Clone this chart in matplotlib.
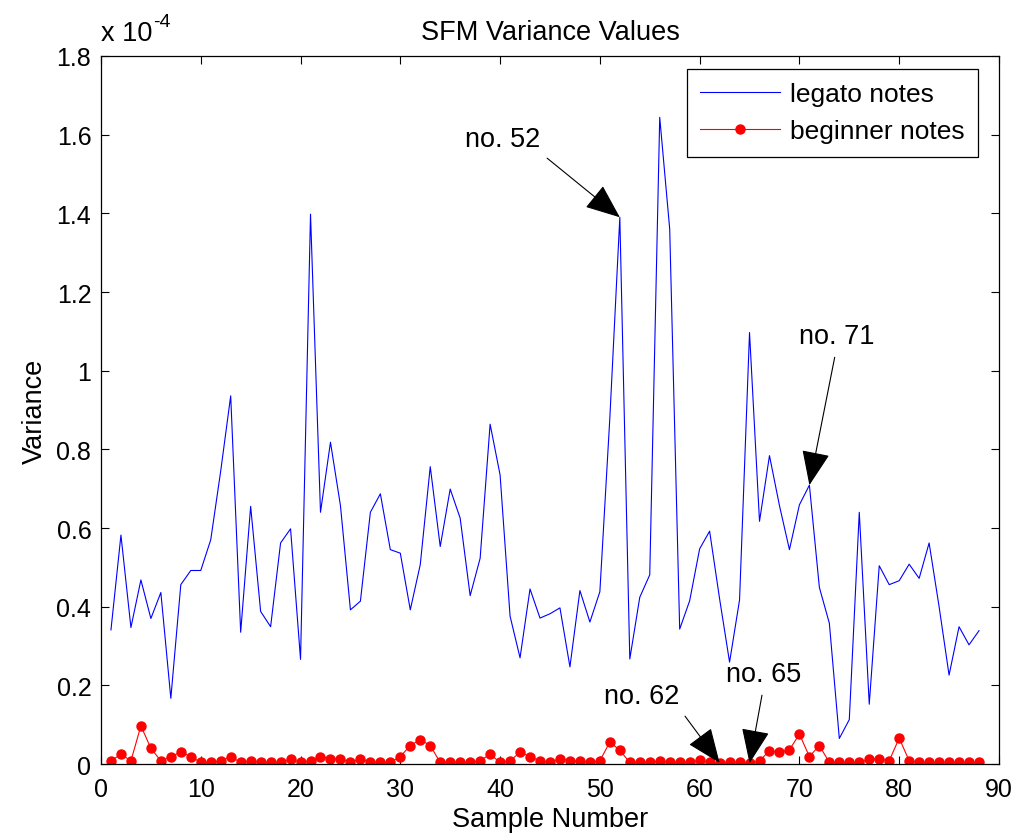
import numpy as np
import matplotlib
matplotlib.use("Agg")
import matplotlib.pyplot as plt
from matplotlib.ticker import FuncFormatter

plt.rcParams['font.family'] = ['Liberation Sans', 'DejaVu Sans']

# values in units of 1e-4
legato = [0.341, 0.582, 0.347, 0.468, 0.370, 0.436, 0.167, 0.456, 0.492, 0.492,
          0.570, 0.745, 0.936, 0.335, 0.655, 0.388, 0.349, 0.562, 0.598, 0.266,
          1.398, 0.640, 0.818, 0.657, 0.392, 0.414, 0.640, 0.687, 0.545, 0.536,
          0.392, 0.507, 0.756, 0.553, 0.699, 0.625, 0.428, 0.523, 0.864, 0.735,
          0.376, 0.270, 0.445, 0.371, 0.382, 0.397, 0.247, 0.441, 0.361, 0.438,
          0.880, 1.390, 0.267, 0.424, 0.481, 1.644, 1.360, 0.343, 0.415, 0.547,
          0.592, 0.420, 0.259, 0.417, 1.097, 0.617, 0.784, 0.657, 0.545, 0.659,
          0.709, 0.449, 0.358, 0.065, 0.113, 0.640, 0.152, 0.504, 0.456, 0.466,
          0.508, 0.472, 0.562, 0.400, 0.226, 0.349, 0.303, 0.339]
beginner = [0.008, 0.025, 0.008, 0.097, 0.040, 0.008, 0.019, 0.030, 0.019, 0.004,
            0.004, 0.008, 0.019, 0.004, 0.008, 0.004, 0.004, 0.004, 0.013, 0.004,
            0.008, 0.019, 0.014, 0.014, 0.004, 0.014, 0.004, 0.004, 0.004, 0.019,
            0.047, 0.062, 0.047, 0.004, 0.004, 0.004, 0.004, 0.008, 0.025, 0.004,
            0.008, 0.030, 0.019, 0.008, 0.004, 0.014, 0.008, 0.008, 0.004, 0.008,
            0.056, 0.035, 0.004, 0.004, 0.004, 0.008, 0.004, 0.004, 0.004, 0.010,
            0.004, 0.003, 0.004, 0.004, 0.002, 0.008, 0.034, 0.030, 0.036, 0.076,
            0.019, 0.047, 0.004, 0.004, 0.004, 0.004, 0.013, 0.013, 0.008, 0.066,
            0.008, 0.004, 0.004, 0.004, 0.004, 0.004, 0.004, 0.004]
samples = np.arange(1, len(legato) + 1)

# (label, sample index, series, text position, horizontal alignment)
notes = [("no. 52", 52, legato, (44.0, 1.555), 'right'),
         ("no. 71", 71, legato, (73.7, 1.055), 'center'),
         ("no. 62", 62, beginner, (58.0, 0.14), 'right'),
         ("no. 65", 65, beginner, (66.4, 0.196), 'center')]

fig = plt.figure(figsize=(10.18, 8.37), dpi=100)
ax = fig.add_axes([0.0992, 0.086, 0.8821, 0.8459])

ax.plot(samples, legato, color='blue', lw=0.8, label='legato notes')
ax.plot(samples, beginner, color='red', lw=0.8, marker='o', markersize=6.5,
        label='beginner notes')

for txt, idx, series, pos, ha in notes:
    rel = (1.0, 0.0) if ha == 'right' else (0.5, 0.0)
    ax.annotate(txt, xy=(idx, series[idx - 1]), xytext=pos, fontsize=19.5,
                ha=ha, va='bottom',
                arrowprops=dict(arrowstyle='-|>,head_length=1.1,head_width=0.45',
                                color='black', lw=0.8, mutation_scale=20,
                                relpos=rel, shrinkA=4, shrinkB=0))

ax.set_xlim(0, 90)
ax.set_ylim(0, 1.8)
ax.set_xticks(np.arange(0, 91, 10))
ax.set_yticks(np.arange(0, 1.81, 0.2))
ax.yaxis.set_major_formatter(FuncFormatter(lambda v, p: '%g' % round(v, 2)))
ax.tick_params(direction='in', length=6, top=True, right=True, labelsize=18, pad=7)
ax.tick_params(axis='x', pad=9)
for s in ax.spines.values():
    s.set_linewidth(0.9)

ax.set_title('SFM Variance Values', fontsize=19.5, pad=12)
ax.set_xlabel('Sample Number', fontsize=19.5, labelpad=4)
ax.set_ylabel('Variance', fontsize=19.5, labelpad=6)
ax.text(0.0, 1.014, 'x 10', transform=ax.transAxes, fontsize=19.5, ha='left', va='bottom')
ax.text(0.058, 1.037, '-4', transform=ax.transAxes, fontsize=14, ha='left', va='bottom')

leg = ax.legend(loc='upper right', bbox_to_anchor=(0.9766, 0.9816), fontsize=19,
                fancybox=False, edgecolor='black', framealpha=1, borderaxespad=0,
                handlelength=3.0, borderpad=0.5, handletextpad=0.4, labelspacing=0.5)
leg.get_frame().set_linewidth(0.9)

fig.savefig('out.png', dpi=100)
